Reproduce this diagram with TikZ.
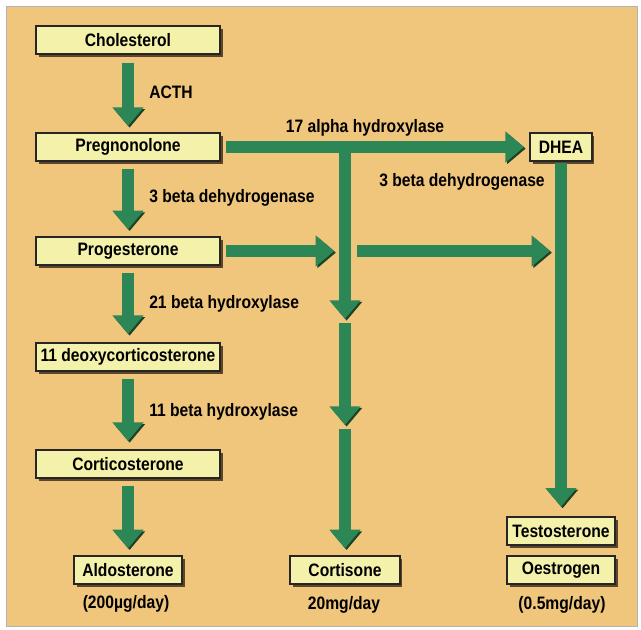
\documentclass[tikz,border=0pt]{standalone}
\usepackage{fontspec}
\setmainfont{Liberation Sans}[FakeStretch=0.87]
\usepackage{xcolor}
\usepackage{tikz}
\usetikzlibrary{arrows.meta, positioning, calc, shadows}

\definecolor{paneltan}{RGB}{240,198,124}
\definecolor{boxfill}{RGB}{244,241,170}
\definecolor{flowgreen}{RGB}{44,134,86}
\definecolor{flowdark}{RGB}{28,66,38}

\tikzset{
  hormone/.style={draw=black!85, line width=1.4pt, fill=boxfill, inner sep=0pt,
    minimum height=21pt, font=\bfseries\fontsize{13.5}{15}\selectfont,
    drop shadow={shadow xshift=2pt, shadow yshift=-2pt, fill=black!70!brown, opacity=0.8}},
  enzyme/.style={font=\bfseries\fontsize{13.5}{15}\selectfont, inner sep=0pt},
  flow/.style={line width=9pt, draw=flowgreen, -{Triangle[length=14pt, width=22.5pt]},
    preaction={draw=flowdark, transform canvas={xshift=1.2pt, yshift=-1.2pt}}}
}

\begin{document}
\begin{tikzpicture}[x=0.75pt, y=-0.75pt]
    % Panel
    \useasboundingbox (0,0) rectangle (641,629);
    \fill[white] (0,0) rectangle (641,629);
    \draw[black!30, fill=paneltan] (6,6) rectangle (637,626);

    % Left column: steroid chain
    \node[hormone, minimum width=138pt] (chol) at (128,40) {Cholesterol};
    \node[hormone, minimum width=138pt] (preg) at (128,147) {Pregnonolone};
    \node[hormone, minimum width=138pt] (prog) at (128,251) {Progesterone};
    \node[hormone, minimum width=138pt] (deoxy) at (128,357) {11 deoxycorticosterone};
    \node[hormone, minimum width=138pt] (cortico) at (128,464) {Corticosterone};
    \node[hormone, minimum width=81pt] (aldo) at (128,570) {Aldosterone};

    % Right columns
    \node[hormone, minimum width=46pt] (dhea) at (561,147) {DHEA};
    \node[hormone, minimum width=82pt] (cortisone) at (345,570) {Cortisone};
    \node[hormone, minimum width=81pt] (testo) at (561,531) {Testosterone};
    \node[hormone, minimum width=81pt] (oestro) at (561,570) {Oestrogen};

    % Daily output
    \node[enzyme] (aldorate) at (126,604) {(200µg/day)};
    \node[enzyme] (cortrate) at (344,605) {20mg/day};
    \node[enzyme] (sexrate) at (562,605) {(0.5mg/day)};

    % Enzymes
    \node[enzyme, anchor=west] (acth) at (149,92) {ACTH};
    \node[enzyme, anchor=west] (dehyd) at (149,198) {3 beta dehydrogenase};
    \node[enzyme, anchor=west] (hyd21) at (149,304) {21 beta hydroxylase};
    \node[enzyme, anchor=west] (hyd11) at (149,412) {11 beta hydroxylase};
    \node[enzyme] (hyd17) at (365,128) {17 alpha hydroxylase};
    \node[enzyme] (dehydb) at (462,182) {3 beta dehydrogenase};

    % Junctions on the cortisone line
    \coordinate (split) at (preg -| cortisone);
    \coordinate (j1) at (345,319);
    \coordinate (j2) at (345,425);

    % Left chain arrows
    \draw[flow, shorten <=6pt, shorten >=4.5pt] (chol) -- (preg);
    \draw[flow, shorten <=5pt, shorten >=5pt] (preg) -- (prog);
    \draw[flow, shorten <=5pt, shorten >=6pt] (prog) -- (deoxy);
    \draw[flow, shorten <=5pt, shorten >=6pt] (deoxy) -- (cortico);
    \draw[flow, shorten <=5pt, shorten >=5pt] (cortico) -- (aldo);

    % Side branches
    \draw[flow, shorten <=4pt, shorten >=4pt] (preg) -- (dhea);
    \draw[flow, shorten <=-4pt] (split) -- (j1);
    \draw[flow, shorten <=3pt] (j1) -- (j2);
    \draw[flow, shorten <=3pt, shorten >=5pt] (j2) -- (cortisone);
    \draw[flow, shorten <=4pt, shorten >=8pt] (prog) -- (prog -| cortisone);
    \draw[flow, shorten <=9pt, shorten >=8pt] (prog -| cortisone) -- (prog -| testo);
    \draw[flow, shorten <=1pt, shorten >=7pt] (dhea) -- (testo);
\end{tikzpicture}
\end{document}
